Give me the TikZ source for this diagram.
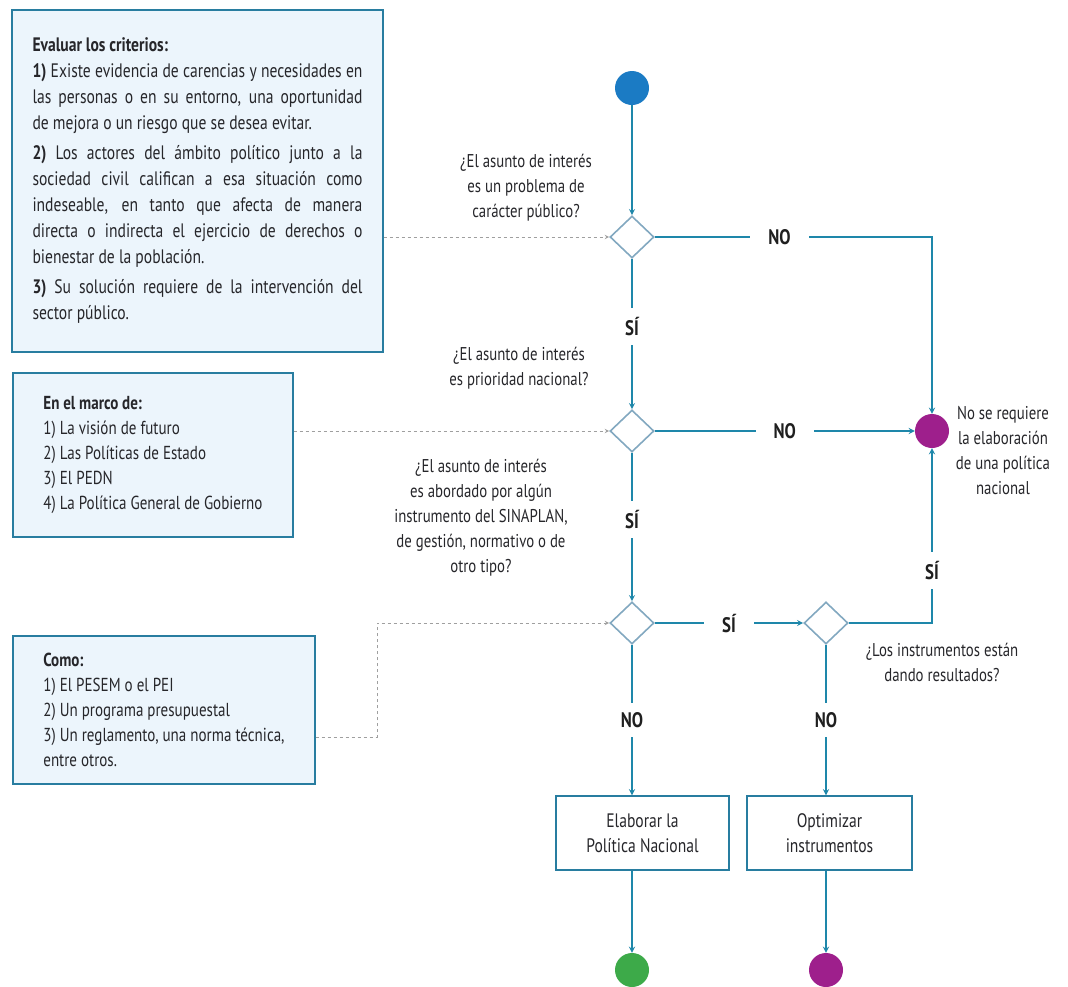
\documentclass[tikz,border=0pt]{standalone}
\usepackage{fontspec}
\setmainfont{PT Sans}[FakeStretch=0.8]
\usetikzlibrary{arrows,shapes.geometric,positioning,calc}
\definecolor{myboxfill}{RGB}{236,245,252}
\definecolor{myframe}{RGB}{40,125,160}
\definecolor{myline}{RGB}{30,135,170}
\definecolor{mydiam}{RGB}{130,168,192}
\definecolor{mytext}{RGB}{38,38,42}
\definecolor{mystart}{RGB}{27,123,196}
\definecolor{mygreen}{RGB}{61,170,73}
\definecolor{mypurple}{RGB}{158,31,140}
\tikzstyle{infobox}=[draw=myframe,line width=1.4pt,fill=myboxfill,rectangle,text=mytext,font=\fontsize{19.5}{26}\selectfont]
\tikzstyle{listbox}=[infobox,align=left,font=\fontsize{18.8}{25}\selectfont]
\tikzstyle{decision}=[draw=mydiam,line width=1.6pt,fill=white,diamond,minimum width=44pt,minimum height=42pt,inner sep=0pt]
\tikzstyle{terminal}=[circle,minimum size=34pt,inner sep=0pt]
\tikzstyle{action}=[draw=myframe,line width=1.4pt,rectangle,minimum width=173pt,minimum height=74pt,align=center,text=mytext,font=\fontsize{19.5}{25}\selectfont]
\tikzstyle{question}=[align=center,text=mytext,font=\fontsize{18.5}{25}\selectfont]
\tikzstyle{answer}=[fill=white,inner xsep=18pt,inner ysep=9pt,text=black!88,font=\bfseries\fontsize{21}{22}\selectfont]
\tikzstyle{flow}=[draw=myline,line width=1.7pt,-stealth]
\tikzstyle{hint}=[draw=gray!75,line width=1pt,dashed,-stealth]

\begin{document}
\begin{tikzpicture}[x=1pt,y=-1pt]
\useasboundingbox (0,0) rectangle (1068,986);

% cuadros de la izquierda
\node [infobox,minimum width=371pt,minimum height=342pt,text width=330pt,align=justify] (crit) at (197.5,181) {%
  \textbf{Evaluar los criterios:}\\
  \textbf{1)} Existe evidencia de carencias y necesidades en\linebreak
  las personas o en su entorno, una oportunidad\linebreak
  de mejora o un riesgo que se desea evitar.\par\vspace{4pt}
  \textbf{2)} Los actores del ámbito político junto a la\linebreak
  sociedad civil califican a esa situación como\linebreak
  indeseable, en tanto que afecta de manera\linebreak
  directa o indirecta el ejercicio de derechos o\linebreak
  bienestar de la población.\par\vspace{4pt}
  \textbf{3)} Su solución requiere de la intervención del\linebreak
  sector público.};
\node [listbox,minimum width=280pt,minimum height=164pt] (marco) at (153,455) {%
  \textbf{En el marco de:}\\
  1) La visión de futuro\\
  2) Las Políticas de Estado\\
  3) El PEDN\\
  4) La Política General de Gobierno};
\node [listbox,minimum width=302pt,minimum height=148pt] (como) at (164,710) {%
  \textbf{Como:}\\
  1) El PESEM o el PEI\\
  2) Un programa presupuestal\\
  3) Un reglamento, una norma técnica,\\
  entre otros.};

% flujo
\node [terminal,fill=mystart] (start) at (632,88) {};
\node [decision] (d1) at (632,237) {};
\node [decision] (d2) at (632,431) {};
\node [decision] (d3) at (632,623) {};
\node [decision] (d4) at (826,623) {};
\node [terminal,fill=mypurple] (endno) at (932,431) {};
\node [action] (elab) at (642.5,833) {Elaborar la\\Política Nacional};
\node [action,minimum width=165pt] (optim) at (829.5,833) {Optimizar\\instrumentos};
\node [terminal,fill=mygreen] (endelab) at (632,970) {};
\node [terminal,fill=mypurple] (endoptim) at (826,970) {};

\node [question] (q1) at (526,188) {¿El asunto de interés\\es un problema de\\carácter público?};
\node [question] (q2) at (519,368) {¿El asunto de interés\\es prioridad nacional?};
\node [question] (q3) at (481,518) {¿El asunto de interés\\es abordado por algún\\instrumento del SINAPLAN,\\de gestión, normativo o de\\otro tipo?};
\node [question] (q4) at (942,662) {¿Los instrumentos están\\dando resultados?};
\node [question] (noreq) at (1003,451) {No se requiere\\la elaboración\\de una política\\nacional};

\coordinate (bend) at (377,737);

\draw [flow] (start) -- (d1);
\draw [flow] (d1) -- node [answer,pos=.45] {SÍ} (d2);
\draw [flow] (d1.east) -- node [answer,pos=.45] {NO} (d1.east -| endno) -- (endno.north);
\draw [flow] (d2.east) -- node [answer,pos=.5] {NO} (endno.west);
\draw [flow] (d2) -- node [answer,pos=.45] {SÍ} (d3);
\draw [flow] (d3.east) -- node [answer,pos=.5] {SÍ} (d4.west);
\draw [flow] (d4.east) -- (d4.east -| endno) -- node [answer,pos=.3] {SÍ} (endno.south);
\draw [flow] (d3.south) -- node [answer,pos=.5] {NO} (d3.south |- elab.north);
\draw [flow] (d4.south) -- node [answer,pos=.5] {NO} (d4.south |- optim.north);
\draw [flow] (elab.south -| endelab) -- (endelab.north);
\draw [flow] (optim.south -| endoptim) -- (endoptim.north);

% referencias punteadas
\draw [hint] (crit.east |- d1) -- (d1.west);
\draw [hint] (marco.east |- d2) -- (d2.west);
\draw [hint] (como.east |- bend) -- (bend) |- (d3.west);
\end{tikzpicture}
\end{document}
